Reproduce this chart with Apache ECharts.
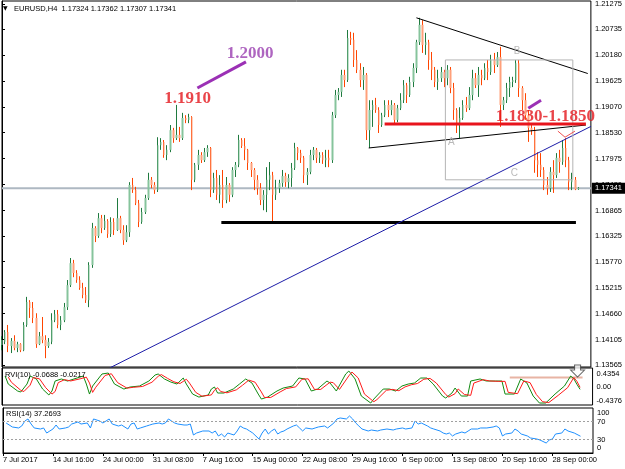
<!DOCTYPE html>
<html>
<head>
<meta charset="utf-8">
<script src="https://cdn.jsdelivr.net/npm/echarts@6/dist/echarts.min.js"></script>
<style>
  html, body { margin: 0; padding: 0; background: #fff; }
  #chart { width: 625px; height: 469px; }
</style>
</head>
<body>
<div id="chart"></div>
<script>
// EURUSD H4, two H4 bars per candle slot
const SLOTS = 190
const lastPrice = 1.17341

const timeLabels = ['7 Jul 2017', '14 Jul 16:00', '24 Jul 00:00', '31 Jul 08:00', '7 Aug 16:00', '15 Aug 00:00',
  '22 Aug 08:00', '29 Aug 16:00', '6 Sep 00:00', '13 Sep 08:00', '20 Sep 16:00', '28 Sep 00:00']

const priceTicks = [1.13565, 1.14105, 1.14660, 1.15215, 1.15770, 1.16325, 1.16865, 1.17420,
  1.17975, 1.18530, 1.19070, 1.19625, 1.20180, 1.20735, 1.21275]

const opens = [1.1399,
  1.1406, 1.1427, 1.1397, 1.1408, 1.1393, 1.1401, 1.1388, 1.1442, 1.1491, 1.1478,
  1.1457, 1.1401, 1.1418, 1.1410, 1.1397, 1.1406, 1.1452, 1.1465, 1.1442, 1.1452,
  1.1480, 1.1527, 1.1574, 1.1553, 1.1538, 1.1521, 1.1506, 1.1495, 1.1570, 1.1649,
  1.1632, 1.1670, 1.1649, 1.1664, 1.1636, 1.1662, 1.1645, 1.1670, 1.1645, 1.1623,
  1.1640, 1.1741, 1.1730, 1.1702, 1.1662, 1.1683, 1.1713, 1.1752, 1.1741, 1.1730,
  1.1826, 1.1833, 1.1805, 1.1816, 1.1858, 1.1841, 1.1848, 1.1841, 1.1884, 1.1880,
  1.1886, 1.1752, 1.1784, 1.1805, 1.1794, 1.1811, 1.1820, 1.1730, 1.1756, 1.1720,
  1.1741, 1.1709, 1.1741, 1.1720, 1.1773, 1.1784, 1.1837, 1.1824, 1.1816, 1.1788,
  1.1773, 1.1752, 1.1734, 1.1709, 1.1720, 1.1752, 1.1762, 1.1720, 1.1734, 1.1745,
  1.1760, 1.1747, 1.1756, 1.1777, 1.1820, 1.1809, 1.1799, 1.1762, 1.1769, 1.1805,
  1.1816, 1.1799, 1.1805, 1.1794, 1.1799, 1.1794, 1.1890, 1.1933, 1.1940, 1.1976,
  1.1965, 1.2055, 1.2051, 1.2008, 1.1987, 1.1965, 1.1976, 1.1858, 1.1901, 1.1912,
  1.1901, 1.1869, 1.1890, 1.1912, 1.1901, 1.1912, 1.1880, 1.1905, 1.1922, 1.1954,
  1.1933, 1.1961, 1.1991, 1.2046, 1.2083, 1.2040, 1.2046, 1.2008, 1.1987, 1.1961,
  1.1969, 1.1982, 1.1969, 1.1987, 1.1948, 1.1901, 1.1869, 1.1884, 1.1912, 1.1905,
  1.1933, 1.1969, 1.1954, 1.1976, 1.1969, 1.1991, 1.1982, 1.2008, 1.1997, 1.2014,
  1.1912, 1.1922, 1.1948, 1.1961, 1.1965, 1.2001, 1.1948, 1.1922, 1.1890, 1.1863,
  1.1858, 1.1794, 1.1784, 1.1773, 1.1741, 1.1734, 1.1769, 1.1762, 1.1799, 1.1790,
  1.1820, 1.1794, 1.1747, 1.1752, 1.17324]

const closes = [1.1410,
  1.1427, 1.1397, 1.1408, 1.1393, 1.1401, 1.1388, 1.1442, 1.1491, 1.1478, 1.1457,
  1.1401, 1.1418, 1.1410, 1.1397, 1.1406, 1.1452, 1.1465, 1.1442, 1.1452, 1.1480,
  1.1527, 1.1574, 1.1553, 1.1538, 1.1521, 1.1506, 1.1495, 1.1570, 1.1649, 1.1632,
  1.1670, 1.1649, 1.1664, 1.1636, 1.1662, 1.1645, 1.1670, 1.1645, 1.1623, 1.1640,
  1.1741, 1.1730, 1.1702, 1.1662, 1.1683, 1.1713, 1.1752, 1.1741, 1.1730, 1.1826,
  1.1833, 1.1805, 1.1816, 1.1858, 1.1841, 1.1848, 1.1841, 1.1884, 1.1880, 1.1886,
  1.1752, 1.1784, 1.1805, 1.1794, 1.1811, 1.1820, 1.1730, 1.1756, 1.1720, 1.1741,
  1.1709, 1.1741, 1.1720, 1.1773, 1.1784, 1.1837, 1.1824, 1.1816, 1.1788, 1.1773,
  1.1752, 1.1734, 1.1709, 1.1720, 1.1752, 1.1762, 1.1720, 1.1734, 1.1745, 1.1760,
  1.1747, 1.1756, 1.1777, 1.1820, 1.1809, 1.1799, 1.1762, 1.1769, 1.1805, 1.1816,
  1.1799, 1.1805, 1.1794, 1.1799, 1.1794, 1.1890, 1.1933, 1.1940, 1.1976, 1.1965,
  1.2055, 1.2051, 1.2008, 1.1987, 1.1965, 1.1976, 1.1858, 1.1901, 1.1912, 1.1901,
  1.1869, 1.1890, 1.1912, 1.1901, 1.1912, 1.1880, 1.1905, 1.1922, 1.1954, 1.1933,
  1.1961, 1.1991, 1.2046, 1.2083, 1.2040, 1.2046, 1.2008, 1.1987, 1.1961, 1.1969,
  1.1982, 1.1969, 1.1987, 1.1948, 1.1901, 1.1869, 1.1884, 1.1912, 1.1905, 1.1933,
  1.1969, 1.1954, 1.1976, 1.1969, 1.1991, 1.1982, 1.2008, 1.1997, 1.2014, 1.1912,
  1.1922, 1.1948, 1.1961, 1.1965, 1.2001, 1.1948, 1.1922, 1.1890, 1.1863, 1.1858,
  1.1794, 1.1784, 1.1773, 1.1741, 1.1734, 1.1769, 1.1762, 1.1799, 1.1790, 1.1820,
  1.1794, 1.1747, 1.1752, 1.1732, 1.17341]

const lows = [1.1388,
  1.1401, 1.1384, 1.1382, 1.1388, 1.1384, 1.1384, 1.1386, 1.1438, 1.1457, 1.1446,
  1.1393, 1.1399, 1.1403, 1.1371, 1.1393, 1.1401, 1.1448, 1.1435, 1.1431, 1.1448,
  1.1474, 1.1523, 1.1544, 1.1532, 1.1517, 1.1499, 1.1489, 1.1480, 1.1564, 1.1619,
  1.1628, 1.1638, 1.1645, 1.1628, 1.1630, 1.1634, 1.1643, 1.1638, 1.1613, 1.1619,
  1.1630, 1.1724, 1.1698, 1.1651, 1.1658, 1.1679, 1.1709, 1.1734, 1.1722, 1.1726,
  1.1816, 1.1799, 1.1794, 1.1811, 1.1831, 1.1837, 1.1833, 1.1837, 1.1873, 1.1873,
  1.1730, 1.1747, 1.1773, 1.1788, 1.1790, 1.1801, 1.1715, 1.1724, 1.1709, 1.1702,
  1.1692, 1.1702, 1.1705, 1.1715, 1.1758, 1.1779, 1.1820, 1.1794, 1.1773, 1.1758,
  1.1730, 1.1720, 1.1698, 1.1687, 1.1683, 1.1730, 1.1662, 1.1709, 1.1724, 1.1737,
  1.1737, 1.1734, 1.1737, 1.1773, 1.1794, 1.1788, 1.1745, 1.1741, 1.1764, 1.1794,
  1.1788, 1.1788, 1.1786, 1.1779, 1.1779, 1.1788, 1.1884, 1.1922, 1.1929, 1.1950,
  1.1961, 1.2040, 1.1993, 1.1980, 1.1950, 1.1944, 1.1837, 1.1820, 1.1865, 1.1895,
  1.1852, 1.1865, 1.1886, 1.1886, 1.1890, 1.1869, 1.1875, 1.1901, 1.1916, 1.1916,
  1.1929, 1.1950, 1.1980, 1.2040, 1.2023, 1.2019, 1.1987, 1.1965, 1.1950, 1.1944,
  1.1961, 1.1950, 1.1954, 1.1937, 1.1880, 1.1852, 1.1841, 1.1880, 1.1897, 1.1901,
  1.1922, 1.1948, 1.1929, 1.1954, 1.1965, 1.1965, 1.1976, 1.1980, 1.1993, 1.1865,
  1.1901, 1.1916, 1.1929, 1.1950, 1.1959, 1.1929, 1.1901, 1.1880, 1.1833, 1.1848,
  1.1767, 1.1758, 1.1758, 1.1730, 1.1720, 1.1726, 1.1724, 1.1756, 1.1767, 1.1784,
  1.1779, 1.1730, 1.1730, 1.1730, 1.17307]

const highs = [1.1418,
  1.1431, 1.1442, 1.1414, 1.1420, 1.1406, 1.1403, 1.1448, 1.1502, 1.1495, 1.1491,
  1.1467, 1.1427, 1.1459, 1.1420, 1.1414, 1.1467, 1.1474, 1.1474, 1.1461, 1.1489,
  1.1538, 1.1585, 1.1581, 1.1559, 1.1546, 1.1532, 1.1523, 1.1576, 1.1660, 1.1653,
  1.1681, 1.1677, 1.1677, 1.1668, 1.1672, 1.1670, 1.1713, 1.1675, 1.1655, 1.1655,
  1.1747, 1.1756, 1.1737, 1.1709, 1.1692, 1.1720, 1.1767, 1.1758, 1.1747, 1.1843,
  1.1841, 1.1837, 1.1826, 1.1869, 1.1863, 1.1912, 1.1865, 1.1895, 1.1890, 1.1893,
  1.1888, 1.1788, 1.1816, 1.1811, 1.1820, 1.1826, 1.1822, 1.1767, 1.1773, 1.1762,
  1.1773, 1.1758, 1.1745, 1.1779, 1.1790, 1.1848, 1.1841, 1.1841, 1.1818, 1.1790,
  1.1777, 1.1762, 1.1745, 1.1730, 1.1779, 1.1790, 1.1769, 1.1752, 1.1752, 1.1773,
  1.1767, 1.1764, 1.1788, 1.1831, 1.1822, 1.1816, 1.1803, 1.1777, 1.1816, 1.1822,
  1.1820, 1.1811, 1.1811, 1.1816, 1.1816, 1.1897, 1.1944, 1.1948, 1.1987, 1.1987,
  1.2072, 1.2068, 1.2066, 1.2029, 1.2001, 1.1993, 1.1980, 1.1922, 1.1922, 1.1927,
  1.1907, 1.1895, 1.1922, 1.1922, 1.1922, 1.1916, 1.1912, 1.1937, 1.1965, 1.1959,
  1.1972, 1.2001, 1.2051, 1.2098, 1.2093, 1.2066, 1.2051, 1.2025, 1.1993, 1.1987,
  1.1993, 1.1987, 1.1997, 1.1993, 1.1959, 1.1905, 1.1907, 1.1922, 1.1929, 1.1950,
  1.1987, 1.1980, 1.1993, 1.1987, 1.2001, 1.2008, 1.2019, 1.2023, 1.2025, 1.2036,
  1.1929, 1.1959, 1.1972, 1.1972, 1.2008, 1.2008, 1.1952, 1.1937, 1.1901, 1.1869,
  1.1865, 1.1811, 1.1809, 1.1779, 1.1758, 1.1779, 1.1794, 1.1809, 1.1816, 1.1837,
  1.1841, 1.1801, 1.1767, 1.1758, 1.17362]

// RVI(10): main (green) and signal (red), read at candle slots
const rviSlots = [1, 2, 5, 6, 8, 9, 11, 13, 15, 16, 17, 19, 21, 24, 26, 27, 28, 29, 32, 34, 36, 39, 41, 44, 47, 49, 50,
  52, 54, 56, 58, 59, 61, 63, 66, 67, 68, 69, 71, 74, 76, 78, 80, 82, 83, 85, 88, 90, 93, 95, 97, 99, 101, 104, 105,
  107, 110, 111, 113, 115, 118, 119, 122, 124, 126, 128, 130, 132, 134, 136, 138, 141, 142, 144, 145, 147, 149, 150,
  153, 155, 158, 160, 161, 164, 166, 168, 170, 172, 174, 177, 180, 182, 183, 184, 185]
const rviMain = [0.246, 0.057, -0.108, -0.131, 0.057, 0.246, 0.176, -0.061, -0.202, -0.108, 0.128, 0.176, 0.128, 0.199,
  0.246, 0.057, -0.179, 0.010, 0.294, 0.317, 0.057, -0.061, -0.013, 0.010, 0.128, 0.270, 0.294, 0.176, 0.105, 0.057,
  0.199, 0.057, -0.179, -0.250, -0.202, -0.061, -0.013, -0.155, -0.155, -0.061, 0.057, 0.176, 0.081, -0.179, -0.297,
  -0.250, -0.108, -0.037, 0.010, 0.199, 0.176, -0.108, -0.061, 0.128, 0.081, -0.108, 0.294, 0.364, 0.176, -0.226,
  -0.391, -0.297, -0.061, -0.061, -0.108, 0.010, 0.057, 0.081, 0.199, 0.199, 0.057, -0.226, -0.273, -0.155, -0.037,
  -0.226, -0.226, 0.128, 0.176, 0.128, 0.128, 0.128, -0.179, -0.179, 0.176, 0.081, -0.226, -0.391, -0.391, -0.179,
  0.010, 0.246, 0.18, 0.05, -0.0688]
const sigSlots = [2, 3, 6, 7, 9, 10, 12, 14, 16, 17, 18, 20, 22, 25, 27, 28, 29, 30, 33, 35, 37, 40, 42, 45, 48, 50, 51,
  53, 55, 57, 59, 60, 62, 64, 67, 68, 69, 70, 72, 75, 77, 79, 81, 83, 84, 86, 89, 91, 94, 96, 98, 100, 102, 105, 106,
  108, 111, 112, 114, 116, 119, 120, 123, 125, 127, 129, 131, 133, 135, 137, 139, 142, 143, 145, 146, 148, 150, 151,
  154, 156, 159, 161, 162, 165, 167, 169, 171, 173, 175, 178, 181, 183, 184, 185]
const rviSignal = [0.22, 0.10, -0.09, -0.12, 0.03, 0.21, 0.18, -0.03, -0.18, -0.12, 0.09, 0.16, 0.13, 0.18, 0.22, 0.08,
  -0.14, -0.02, 0.26, 0.30, 0.09, -0.04, -0.02, 0.00, 0.10, 0.24, 0.28, 0.19, 0.11, 0.07, 0.17, 0.08, -0.14, -0.23,
  -0.20, -0.09, -0.03, -0.12, -0.15, -0.08, 0.03, 0.15, 0.10, -0.13, -0.26, -0.26, -0.13, -0.05, -0.01, 0.17, 0.18,
  -0.07, -0.07, 0.10, 0.09, -0.07, 0.25, 0.34, 0.20, -0.18, -0.36, -0.31, -0.09, -0.07, -0.10, -0.01, 0.04, 0.07,
  0.17, 0.19, 0.08, -0.19, -0.25, -0.17, -0.06, -0.19, -0.21, 0.08, 0.16, 0.13, 0.12, 0.12, -0.14, -0.17, 0.13, 0.09,
  -0.19, -0.36, -0.38, -0.21, -0.03, 0.21, 0.12, -0.0217]

// RSI(14)
const rsiSlots = [1, 3, 5, 6, 7, 8, 9, 10, 12, 13, 14, 15, 16, 17, 18, 20, 21, 22, 24, 25, 27, 28, 29, 31, 32, 33, 34,
  35, 37, 38, 40, 41, 42, 43, 44, 46, 47, 48, 50, 51, 52, 53, 54, 55, 56, 58, 59, 60, 61, 62, 64, 66, 67, 68, 69, 70,
  71, 72, 73, 74, 75, 76, 77, 78, 79, 80, 82, 83, 84, 85, 86, 87, 88, 89, 90, 91, 93, 94, 95, 96, 97, 99, 100, 101,
  103, 104, 106, 107, 108, 110, 111, 112, 113, 114, 115, 117, 118, 120, 121, 123, 125, 126, 128, 129, 131, 132, 133,
  134, 136, 137, 138, 140, 141, 142, 143, 144, 145, 147, 148, 149, 150, 152, 153, 155, 157, 158, 159, 160, 161, 163,
  164, 165, 166, 168, 169, 171, 172, 174, 175, 176, 177, 179, 180, 181, 183, 185]
const rsiValues = [66.7, 57.8, 55.6, 60.0, 71.1, 75.6, 64.4, 55.6, 53.3, 55.6, 44.4, 48.9, 53.3, 62.2, 53.3, 55.6, 57.8,
  64.4, 68.9, 64.4, 66.7, 55.6, 75.6, 71.1, 66.7, 71.1, 75.6, 64.4, 60.0, 62.2, 53.3, 64.4, 66.7, 53.3, 55.6, 60.0,
  62.2, 64.4, 66.7, 64.4, 66.7, 75.6, 71.1, 66.7, 64.4, 62.2, 62.2, 64.4, 40.0, 44.4, 48.9, 48.9, 44.4, 48.9, 37.8,
  42.2, 35.6, 44.4, 42.2, 40.0, 48.9, 60.0, 55.6, 53.3, 48.9, 44.4, 31.1, 44.4, 53.3, 42.2, 48.9, 53.3, 42.2, 46.7,
  48.9, 53.3, 60.0, 62.2, 55.6, 48.9, 55.6, 53.3, 55.6, 57.8, 60.0, 55.6, 66.7, 75.6, 77.8, 75.6, 82.2, 75.6, 66.7,
  60.0, 53.3, 48.9, 51.1, 48.9, 51.1, 53.3, 51.1, 53.3, 55.6, 53.3, 55.6, 71.1, 64.4, 66.7, 60.0, 55.6, 53.3, 48.9,
  44.4, 42.2, 44.4, 37.8, 42.2, 46.7, 44.4, 48.9, 53.3, 53.3, 55.6, 55.6, 57.8, 60.0, 55.6, 37.8, 42.2, 44.4, 53.3,
  48.9, 42.2, 37.8, 33.3, 31.1, 28.9, 22.2, 28.9, 31.1, 42.2, 44.4, 53.3, 48.9, 44.4, 37.27]

// objects drawn on the price panel, [slot, price]
const supportLine = [[70.4, 1.1661], [184.2, 1.1661]]
const blueTrend = [[34.5, 1.1350], [189, 1.1866]]
const triUpper = [[133.0, 1.2098], [188.0, 1.1979]]
const triLower = [[117.7, 1.1820], [187.4, 1.1869]]
const redZone = [[122.8, 1.1871], [187.4, 1.1871]]
const purpleA = [[62.7, 1.1948], [78.3, 1.2004]]
const purpleB = [[168.9, 1.1905], [173.0, 1.1922]]
const boxABC = [[142.3, 1.2008], [183.2, 1.2008], [183.2, 1.1752], [142.3, 1.1752], [142.3, 1.2008]]
const redV = [[178.4, 1.1856], [180.7, 1.1843], [183.9, 1.1856]]
const noteSlots = [59.6, 79.6, 174.4, 144.2, 165.3, 164.4]
const notePrices = [1.1925, 1.2021, 1.1888, 1.1833, 1.2027, 1.1766]
const noteTexts = ['1.1910', '1.2000', '1.1830-1.1850', 'A', 'B', 'C']
// objects on the RVI panel
const rviLevel = [[162.5, 0.21], [185.8, 0.21]]
const rviArrow = [184.2, 0.365]

const FONT = 'Liberation Sans'
const FS = 7.5

const chart = echarts.init(document.getElementById('chart'))

const cats = Array.from({ length: SLOTS }, (_, i) => String(i))
const candleData = opens.map((o, i) => [o, closes[i], lows[i], highs[i]])
const bodyData = opens.map((o, i) => [o, closes[i], Math.min(o, closes[i]), Math.max(o, closes[i])])
const pairs = (xs, ys) => xs.map((x, i) => [x, ys[i]])
const showDate = (i) => i % 16 === 0

const noteColors = ['#e3151c', '#9a3fb0', '#e3151c', '#a8a8a8', '#a8a8a8', '#a8a8a8']
const noteData = noteTexts.map((t, i) => {
  const big = i < 3
  return {
    value: [noteSlots[i], notePrices[i]],
    label: {
      formatter: t,
      color: noteColors[i],
      fontFamily: big ? 'Liberation Serif' : FONT,
      fontWeight: big ? 'bold' : 'normal',
      fontSize: big ? 17 : 10
    }
  }
})

const lineSeries = (data, color, width) => ({
  type: 'line',
  xAxisIndex: 1,
  yAxisIndex: 0,
  data: data,
  symbol: 'none',
  silent: true,
  lineStyle: { color: color, width: width },
  z: 3
})

const axisText = { fontSize: FS, fontFamily: FONT, color: '#000' }

const option = {
  animation: false,
  backgroundColor: '#fff',
  title: [
    { text: '▼', left: 3, top: 5, padding: 0, textStyle: { fontSize: 6, fontFamily: 'DejaVu Sans', color: '#000', fontWeight: 'normal' } },
    { text: 'EURUSD,H4  1.17324 1.17362 1.17307 1.17341', left: 14, top: 5, padding: 0, textStyle: Object.assign({ fontWeight: 'normal' }, axisText) },
    { text: 'RVI(10) -0.0688 -0.0217', left: 5, top: 371, padding: 0, textStyle: Object.assign({ fontWeight: 'normal' }, axisText) },
    { text: 'RSI(14) 37.2693', left: 6, top: 410, padding: 0, textStyle: Object.assign({ fontWeight: 'normal' }, axisText) }
  ],
  grid: [
    { left: 2, top: 1, width: 591, height: 366, show: true, borderColor: '#000', borderWidth: 1 },
    { left: 2, top: 368, width: 591, height: 37, show: true, borderColor: '#000', borderWidth: 1 },
    { left: 2, top: 408, width: 591, height: 45, show: true, borderColor: '#000', borderWidth: 1 }
  ],
  xAxis: [
    { type: 'category', gridIndex: 0, data: cats, boundaryGap: false, show: false },
    { type: 'value', gridIndex: 0, min: 0, max: SLOTS - 1, show: false },
    { type: 'value', gridIndex: 1, min: 0, max: SLOTS - 1, show: false },
    { type: 'value', gridIndex: 2, min: 0, max: SLOTS - 1, show: false },
    {
      type: 'category', gridIndex: 2, data: cats, boundaryGap: false, position: 'bottom',
      axisLine: { lineStyle: { color: '#000' } },
      axisTick: { interval: showDate, length: 3, lineStyle: { color: '#000' } },
      axisLabel: Object.assign({
        interval: showDate,
        align: 'left',
        margin: 3,
        formatter: (v, i) => timeLabels[i / 16]
      }, axisText),
      splitLine: { show: false }
    }
  ],
  yAxis: [
    {
      type: 'value', gridIndex: 0, position: 'right', min: 1.13522, max: 1.21339,
      axisLine: { show: true, lineStyle: { color: '#000' } },
      axisTick: { show: true, customValues: priceTicks, length: 3, lineStyle: { color: '#000' } },
      axisLabel: Object.assign({ customValues: priceTicks, margin: 4, formatter: (v) => v.toFixed(5) }, axisText),
      splitLine: { show: false }
    },
    {
      type: 'value', gridIndex: 1, position: 'right', min: -0.4376, max: 0.4354,
      axisLine: { show: true, lineStyle: { color: '#000' } },
      axisTick: { show: false },
      axisLabel: Object.assign({
        customValues: [-0.4376, 0, 0.4354], margin: 4,
        formatter: (v) => v > 0.1 ? '{t|0.4354}' : (v < -0.1 ? '{b|-0.4376}' : '0.00'),
        rich: {
          t: { padding: [12, 0, 0, 0], fontSize: FS, fontFamily: FONT, color: '#000' },
          b: { padding: [0, 0, 8, 0], fontSize: FS, fontFamily: FONT, color: '#000' }
        }
      }, axisText),
      splitLine: { show: false }
    },
    {
      type: 'value', gridIndex: 2, position: 'right', min: 0, max: 100,
      axisLine: { show: true, lineStyle: { color: '#000' } },
      axisTick: { show: false },
      axisLabel: Object.assign({
        customValues: [0, 30, 70, 100], margin: 4,
        formatter: (v) => v === 100 ? '{t|100}' : (v === 0 ? '{b|0}' : String(v)),
        rich: {
          t: { padding: [10, 0, 0, 0], fontSize: FS, fontFamily: FONT, color: '#000' },
          b: { padding: [0, 0, 10, 0], fontSize: FS, fontFamily: FONT, color: '#000' }
        }
      }, axisText),
      splitLine: { show: false }
    }
  ],
  series: [
    {
      // bid line with its price tag on the axis
      type: 'line',
      xAxisIndex: 1,
      yAxisIndex: 0,
      data: [[0, lastPrice], [SLOTS - 1, lastPrice]],
      symbol: 'none',
      silent: true,
      z: 1,
      lineStyle: { color: '#aeb8c2', width: 2 },
      endLabel: {
        show: true,
        distance: 1,
        formatter: () => lastPrice.toFixed(5),
        backgroundColor: '#000', color: '#fff', fontSize: FS, fontFamily: FONT,
        padding: [2, 5, 1, 3]
      }
    },
    {
      name: 'wicks',
      type: 'candlestick',
      xAxisIndex: 0,
      yAxisIndex: 0,
      data: candleData,
      barWidth: 1,
      itemStyle: { color: '#1f7a3f', color0: '#ff4500', borderColor: '#1f7a3f', borderColor0: '#ff4500', borderWidth: 1 }
    },
    {
      name: 'bodies',
      type: 'candlestick',
      xAxisIndex: 0,
      yAxisIndex: 0,
      data: bodyData,
      barWidth: 2,
      itemStyle: { color: '#86c49c', color0: '#ffa07a', borderColor: '#86c49c', borderColor0: '#ffa07a', borderWidth: 0 }
    },
    lineSeries(supportLine, '#000', 3),
    lineSeries(blueTrend, '#1c1ca8', 1),
    lineSeries(triUpper, '#000', 1),
    lineSeries(triLower, '#000', 1),
    lineSeries(boxABC, '#b4b4b4', 1),
    lineSeries(redZone, '#e8141c', 3),
    lineSeries(purpleA, '#9b30b5', 3),
    lineSeries(purpleB, '#9b30b5', 3),
    lineSeries(redV, '#f05050', 1),
    {
      type: 'scatter',
      xAxisIndex: 1,
      yAxisIndex: 0,
      data: noteData,
      symbolSize: 0,
      silent: true,
      label: { show: true, position: 'inside' },
      z: 5
    },
    {
      type: 'line', xAxisIndex: 2, yAxisIndex: 1, data: rviLevel, symbol: 'none', silent: true,
      lineStyle: { color: '#e8b4a4', width: 2 }
    },
    {
      type: 'line', xAxisIndex: 2, yAxisIndex: 1, data: pairs(rviSlots, rviMain), symbol: 'none', silent: true,
      lineStyle: { color: '#118a11', width: 1 }
    },
    {
      type: 'line', xAxisIndex: 2, yAxisIndex: 1, data: pairs(sigSlots, rviSignal), symbol: 'none', silent: true,
      lineStyle: { color: '#ff1a1a', width: 1 }
    },
    {
      type: 'scatter', xAxisIndex: 2, yAxisIndex: 1, data: [rviArrow], silent: true, clip: false,
      symbol: 'path://M4,0 L10,0 L10,5 L14,5 L7,12 L0,5 L4,5 Z', symbolSize: [14, 12],
      itemStyle: { color: '#fff', borderColor: '#444', borderWidth: 1 }, z: 6
    },
    {
      type: 'line', xAxisIndex: 3, yAxisIndex: 2, data: pairs(rsiSlots, rsiValues), symbol: 'none', silent: true,
      lineStyle: { color: '#1e90ff', width: 1 },
      markLine: {
        silent: true,
        symbol: ['none', 'none'],
        data: [{ yAxis: 70 }, { yAxis: 30 }],
        lineStyle: { color: '#a0a0a0', width: 1, type: [2, 2] },
        label: { show: false }
      }
    }
  ]
}

chart.setOption(option)
</script>
</body>
</html>
